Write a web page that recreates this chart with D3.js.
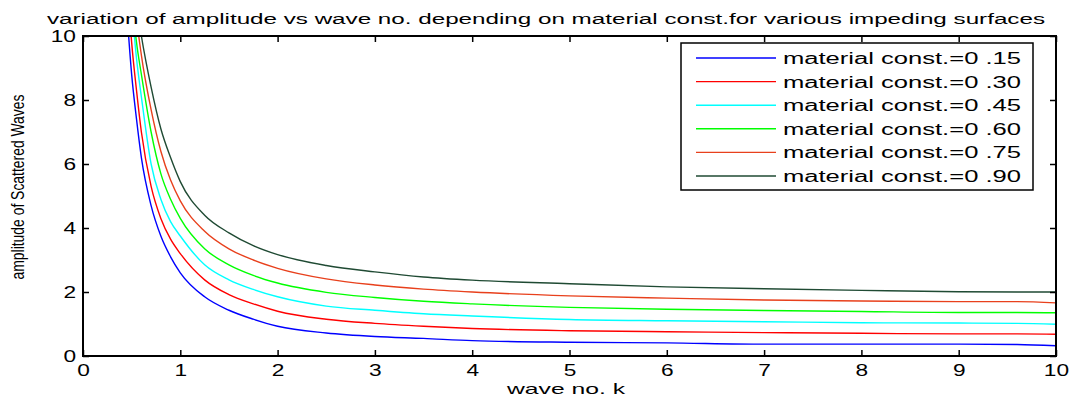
<!DOCTYPE html>
<html lang="en">
<head>
    <title>Amplitude vs wave no.</title>
    <script src="https://cdn.jsdelivr.net/npm/d3@7"></script>
    <style>
        body { margin: 0; background: #fff; }
        text { font-family: "Liberation Sans", Arial, sans-serif; fill: #000; }
    </style>
</head>

<body>

<div id="chart"></div>

<script type="text/javascript">
// wave no. k sample points
var waveNo = [0.45, 0.5, 0.55, 0.6, 0.7, 0.8, 0.9, 1, 1.25, 1.5, 1.75, 2, 2.5, 3, 3.5, 4, 5, 6, 7, 8, 9, 9.6, 10];

// amplitude of scattered waves, one list per material const.
var amp015 = [10.8, 8.8, 7.4, 6.2, 4.7, 3.75, 3.1, 2.6, 1.85, 1.43, 1.15, 0.93, 0.72, 0.61, 0.55, 0.48, 0.43, 0.41, 0.37, 0.37, 0.37, 0.36, 0.32];
var amp030 = [12.0, 9.8, 8.3, 7.0, 5.3, 4.3, 3.65, 3.2, 2.38, 1.92, 1.63, 1.40, 1.15, 1.02, 0.93, 0.86, 0.79, 0.76, 0.73, 0.71, 0.69, 0.69, 0.68];
var amp045 = [13.0, 11.0, 9.3, 8.1, 6.0, 4.9, 4.2, 3.75, 2.85, 2.38, 2.08, 1.85, 1.56, 1.43, 1.32, 1.25, 1.14, 1.10, 1.07, 1.04, 1.03, 1.02, 0.99];
var amp060 = [13.5, 11.3, 9.8, 8.8, 7.0, 5.7, 4.9, 4.3, 3.35, 2.85, 2.52, 2.28, 1.99, 1.83, 1.71, 1.63, 1.52, 1.46, 1.42, 1.39, 1.36, 1.36, 1.35];
var amp075 = [14.5, 12.5, 10.6, 9.4, 7.7, 6.4, 5.5, 4.85, 3.9, 3.35, 3.0, 2.74, 2.41, 2.22, 2.09, 2.0, 1.88, 1.81, 1.75, 1.72, 1.70, 1.70, 1.66];
var amp090 = [15.0, 13.0, 11.0, 10.0, 8.4, 7.1, 6.2, 5.45, 4.4, 3.85, 3.45, 3.17, 2.83, 2.63, 2.47, 2.37, 2.26, 2.16, 2.10, 2.05, 2.01, 2.0, 2.0];

var seriesNames = ["material const.=0 .15", "material const.=0 .30", "material const.=0 .45",
                   "material const.=0 .60", "material const.=0 .75", "material const.=0 .90"];
var seriesValues = [amp015, amp030, amp045, amp060, amp075, amp090];
var seriesColors = ["#0000ff", "#ff0000", "#00ffff", "#00ff00", "#e8401c", "#1f4a33"];

var xTicks = [0, 1, 2, 3, 4, 5, 6, 7, 8, 9, 10];
var yTicks = [0, 2, 4, 6, 8, 10];

var titleText = "variation of amplitude vs wave no. depending on material const.for various impeding surfaces";
var xLabel = "wave no. k";
var yLabel = "amplitude of Scattered Waves";
</script>

<script type="text/javascript">
var width = 1079, height = 400;
var plotLeft = 83, plotRight = 1056, plotTop = 36, plotBottom = 356;
var stretch = 1.42;

var svg = d3.select("#chart")
            .append("svg")
            .attr("width", width)
            .attr("height", height);

var x = d3.scaleLinear().domain([0, 10]).range([plotLeft, plotRight]);
var y = d3.scaleLinear().domain([0, 10]).range([plotBottom, plotTop]);

svg.append("defs").append("clipPath")
   .attr("id", "plotClip")
   .append("rect")
   .attr("x", plotLeft)
   .attr("y", plotTop)
   .attr("width", plotRight - plotLeft)
   .attr("height", plotBottom - plotTop);

// curves
var line = d3.line()
    .curve(d3.curveMonotoneX)
    .x(function(d) { return x(d[0]); })
    .y(function(d) { return y(d[1]); });

svg.append("g")
   .attr("clip-path", "url(#plotClip)")
   .selectAll("path")
   .data(seriesValues)
   .enter().append("path")
   .attr("d", function(vals) {
       return line(vals.map(function(v, i) { return [waveNo[i], v]; }));
   })
   .attr("fill", "none")
   .attr("stroke", function(d, i) { return seriesColors[i]; })
   .attr("stroke-width", 1.4);

// axes, ticks inward on all four sides
function styleAxis(g) {
    g.select(".domain").remove();
    g.selectAll("line").attr("stroke", "#000").attr("stroke-width", 1.5);
    g.selectAll("text").style("font-size", "16px");
}

svg.append("g")
   .attr("transform", "translate(0," + plotBottom + ")")
   .call(d3.axisBottom(x).tickValues(xTicks).tickFormat(d3.format("d")).tickSize(-6).tickPadding(9))
   .call(styleAxis)
   .selectAll("text")
   .attr("transform", "scale(" + stretch + ",1)");

svg.append("g")
   .attr("transform", "translate(0," + plotTop + ")")
   .call(d3.axisTop(x).tickValues(xTicks).tickFormat("").tickSize(-6))
   .call(styleAxis);

svg.append("g")
   .attr("transform", "translate(" + plotLeft + ",0)")
   .call(d3.axisLeft(y).tickValues(yTicks).tickFormat(d3.format("d")).tickSize(-6).tickPadding(7))
   .call(styleAxis)
   .selectAll("text")
   .attr("x", -7 / stretch)
   .attr("transform", "scale(" + stretch + ",1)");

svg.append("g")
   .attr("transform", "translate(" + plotRight + ",0)")
   .call(d3.axisRight(y).tickValues(yTicks).tickFormat("").tickSize(-6))
   .call(styleAxis);

svg.append("rect")
   .attr("x", plotLeft)
   .attr("y", plotTop)
   .attr("width", plotRight - plotLeft)
   .attr("height", plotBottom - plotTop)
   .attr("fill", "none")
   .attr("stroke", "#000")
   .attr("stroke-width", 2);

// title and axis labels
svg.append("text")
   .attr("x", 47)
   .attr("y", 24)
   .attr("textLength", 998)
   .attr("lengthAdjust", "spacingAndGlyphs")
   .style("font-size", "15.5px")
   .text(titleText);

svg.append("text")
   .attr("x", 507)
   .attr("y", 394)
   .attr("textLength", 118)
   .attr("lengthAdjust", "spacingAndGlyphs")
   .style("font-size", "15px")
   .text(xLabel);

svg.append("text")
   .attr("transform", "translate(24,187) scale(" + stretch + ",1) rotate(-90)")
   .attr("text-anchor", "middle")
   .attr("textLength", 185)
   .attr("lengthAdjust", "spacingAndGlyphs")
   .style("font-size", "13px")
   .text(yLabel);

// legend
var legendX = 681, legendY = 43, legendW = 352, legendH = 147, rowH = 23.6;

var legend = svg.append("g");

legend.append("rect")
      .attr("x", legendX)
      .attr("y", legendY)
      .attr("width", legendW)
      .attr("height", legendH)
      .attr("fill", "#fff")
      .attr("stroke", "#000")
      .attr("stroke-width", 1.5);

var rows = legend.selectAll("g.row")
    .data(seriesNames)
    .enter().append("g")
    .attr("class", "row")
    .attr("transform", function(d, i) {
        return "translate(" + legendX + "," + (legendY + 15 + i * rowH) + ")";
    });

rows.append("line")
    .attr("x1", 15)
    .attr("x2", 95)
    .attr("stroke", function(d, i) { return seriesColors[i]; })
    .attr("stroke-width", 1.4);

rows.append("text")
    .attr("x", 102)
    .attr("y", 6)
    .attr("textLength", 238)
    .attr("lengthAdjust", "spacingAndGlyphs")
    .style("font-size", "16px")
    .text(function(d) { return d; });
</script>

</body>

</html>
